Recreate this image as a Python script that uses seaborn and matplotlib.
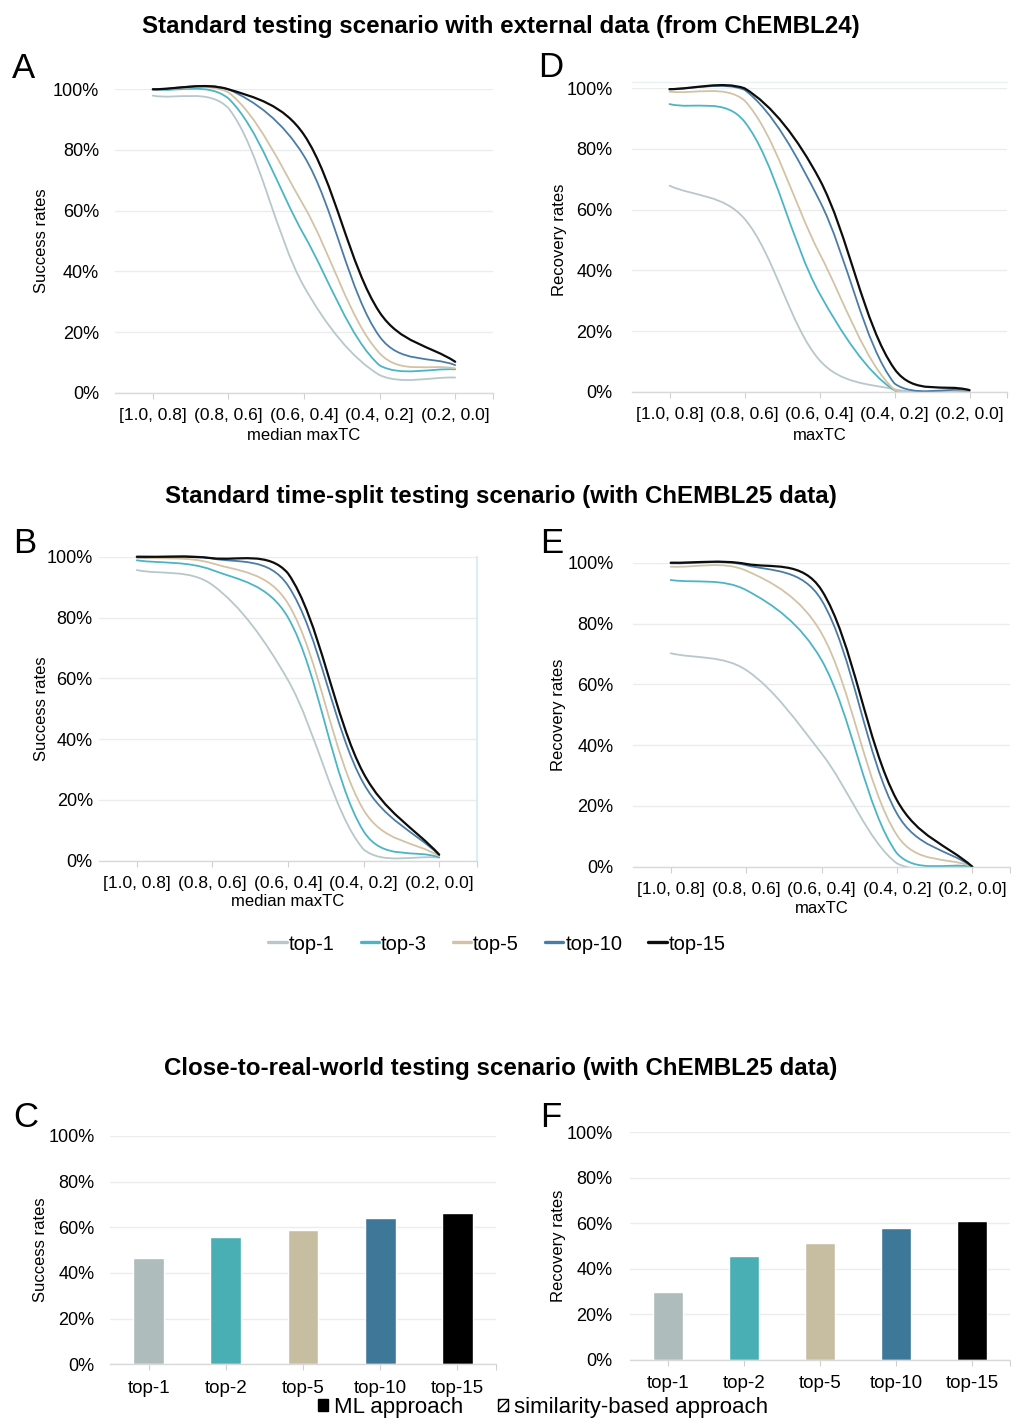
import matplotlib
matplotlib.use("Agg")
import matplotlib.pyplot as plt
import seaborn as sns
import numpy as np
from matplotlib.path import Path
from matplotlib.patches import PathPatch, Patch, Rectangle
from matplotlib.lines import Line2D

# categories
bins = ['[1.0, 0.8]', '(0.8, 0.6]', '(0.6, 0.4]', '(0.4, 0.2]', '(0.2, 0.0]']
line_names = ['top-1', 'top-3', 'top-5', 'top-10', 'top-15']
bar_names = ['top-1', 'top-2', 'top-5', 'top-10', 'top-15']

# A - success rates, external data
a_top1 = [0.979, 0.938, 0.35, 0.058, 0.05]
a_top3 = [1.0, 0.97, 0.52, 0.09, 0.077]
a_top5 = [1.0, 0.99, 0.615, 0.13, 0.08]
a_top10 = [1.0, 1.0, 0.78, 0.185, 0.091]
a_top15 = [1.0, 1.0, 0.85, 0.265, 0.102]

# D - recovery rates, external data
d_top1 = [0.679, 0.57, 0.104, 0.008, 0.0]
d_top3 = [0.948, 0.89, 0.324, 0.004, 0.0]
d_top5 = [0.989, 0.96, 0.456, 0.006, 0.004]
d_top10 = [0.998, 0.995, 0.63, 0.027, 0.006]
d_top15 = [0.997, 1.0, 0.70, 0.075, 0.005]

# B - success rates, time split
b_top1 = [0.956, 0.907, 0.594, 0.037, 0.01]
b_top3 = [0.988, 0.956, 0.80, 0.097, 0.011]
b_top5 = [0.997, 0.978, 0.846, 0.167, 0.015]
b_top10 = [0.998, 0.994, 0.905, 0.254, 0.019]
b_top15 = [1.0, 0.995, 0.945, 0.287, 0.02]

# E - recovery rates, time split
e_top1 = [0.702, 0.647, 0.373, 0.011, 0.0]
e_top3 = [0.943, 0.91, 0.68, 0.044, 0.0]
e_top5 = [0.987, 0.974, 0.768, 0.104, 0.0]
e_top10 = [0.998, 0.992, 0.877, 0.175, 0.0]
e_top15 = [1.0, 0.996, 0.91, 0.219, 0.0]

# C / F - close-to-real-world bars
c_vals = [0.464, 0.556, 0.59, 0.639, 0.663]
f_vals = [0.297, 0.458, 0.514, 0.578, 0.609]

line_colors = ['#b8c8ca', '#4bb5c6', '#d3c3a6', '#4a7ca8', '#0d0d0d']
bar_colors = ['#aebdbb', '#4aafb5', '#c7bea2', '#3e7898', '#000000']

sns.set_theme(style="white")
plt.rcParams['font.family'] = ['Liberation Sans', 'DejaVu Sans']
plt.rcParams['text.color'] = 'black'
plt.rcParams['axes.labelcolor'] = 'black'
plt.rcParams['xtick.color'] = 'black'
plt.rcParams['ytick.color'] = 'black'

W, H = 1011, 1424
fig = plt.figure(figsize=(W / 100, H / 100), dpi=100)


def box(l, r, t, b):
    return [l / W, 1 - b / H, (r - l) / W, (b - t) / H]


def smooth_path(ys, sx=75.5, sy=303.5, lim=0.025):
    # excel-like smoothed line; tangents partly weighted by screen chord length,
    # control points kept close to the segment's value range
    pts = np.array(list(zip(range(len(ys)), ys)), dtype=float)
    scr = pts * [sx, sy]
    n = len(pts)
    dist = np.hypot(*np.diff(scr, axis=0).T)
    verts = [tuple(pts[0])]
    codes = [Path.MOVETO]
    for i in range(n - 1):
        p1, p2 = pts[i], pts[i + 1]
        if i == 0:
            c1 = p1 + (p2 - p1) / 3
        else:
            w = (0.5 + dist[i] / (dist[i - 1] + dist[i])) / 2
            c1 = p1 + (pts[i + 1] - pts[i - 1]) * w / 3
        if i + 2 >= n:
            c2 = p2 - (p2 - p1) / 3
        else:
            w = (0.5 + dist[i] / (dist[i] + dist[i + 1])) / 2
            c2 = p2 - (pts[i + 2] - pts[i]) * w / 3
        lo, hi = min(p1[1], p2[1]) - lim, max(p1[1], p2[1]) + lim
        c1[1] = np.clip(c1[1], lo, hi)
        c2[1] = np.clip(c2[1], lo, hi)
        verts += [tuple(c1), tuple(c2), tuple(p2)]
        codes += [Path.CURVE4] * 3
    return Path(verts, codes)


def style_axes(ax, ticklabels, fs_x, ypad):
    ax.set_xlim(-0.5, 4.5)
    ax.set_ylim(0, 1.0)
    ax.set_yticks([0, 0.2, 0.4, 0.6, 0.8, 1.0])
    ax.set_yticklabels(['0%', '20%', '40%', '60%', '80%', '100%'], fontsize=13)
    ax.set_xticks(range(5))
    ax.set_xticklabels(ticklabels, fontsize=fs_x)
    ax.set_xticks([4.5], minor=True)
    ax.grid(axis='y', color='#ececec', linewidth=1.0)
    ax.set_axisbelow(True)
    for s in ['left', 'right', 'top']:
        ax.spines[s].set_visible(False)
    ax.spines['bottom'].set_color('#d9d9d9')
    ax.spines['bottom'].set_linewidth(1.0)
    ax.tick_params(axis='y', length=0, pad=ypad)
    ax.tick_params(axis='x', which='both', length=4, width=0.8, color='#d0d0d0',
                   pad=7, bottom=True, labelcolor='black')
    ax.set_xlabel('')
    ax.set_ylabel('')


def line_panel(rect, series, ylab, ylab_x, xlab, xlab_y, ypad):
    ax = fig.add_axes(box(*rect))
    style_axes(ax, bins, 12.5, ypad)
    clip = Rectangle((0, 0), 1, 1.1, transform=ax.transAxes)
    for ys, col in zip(series, line_colors):
        lw = 1.6 if col == '#0d0d0d' else 1.3
        p = PathPatch(smooth_path(ys), facecolor='none', edgecolor=col, lw=lw,
                      capstyle='round')
        ax.add_patch(p)
        p.set_clip_path(clip)
    ax.set_ylabel(ylab, fontsize=12)
    ax.yaxis.set_label_coords((ylab_x + 9) / W, 1 - (rect[2] + rect[3]) / 2 / H,
                              transform=fig.transFigure)
    ax.set_xlabel(xlab, fontsize=12)
    ax.xaxis.set_label_coords(((rect[0] + rect[1]) / 2) / W, 1 - (xlab_y - 9) / H,
                              transform=fig.transFigure)
    return ax


def bar_panel(rect, vals, ylab, ylab_x, ypad):
    ax = fig.add_axes(box(*rect))
    sns.barplot(x=bar_names, y=vals, hue=bar_names, palette=bar_colors,
                width=0.4, legend=False, saturation=1, ax=ax)
    style_axes(ax, bar_names, 13.5, ypad)
    ax.set_ylabel(ylab, fontsize=12)
    ax.yaxis.set_label_coords((ylab_x + 9) / W, 1 - (rect[2] + rect[3]) / 2 / H,
                              transform=fig.transFigure)
    return ax


axA = line_panel((115, 493, 89.3, 392.7), [a_top1, a_top3, a_top5, a_top10, a_top15],
                 'Success rates', 40, 'median maxTC', 437, 11.5)
axD = line_panel((632, 1007, 88.3, 391.7), [d_top1, d_top3, d_top5, d_top10, d_top15],
                 'Recovery rates', 558, 'maxTC', 437, 14)
axD.axhline(1.02, color='#eaf1f4', lw=1.0, clip_on=False)
axB = line_panel((99, 477, 556.7, 860.7), [b_top1, b_top3, b_top5, b_top10, b_top15],
                 'Success rates', 40, 'median maxTC', 903, 4.5)
axB.spines['right'].set_visible(True)
axB.spines['right'].set_color('#d4ecf2')
axE = line_panel((633, 1010, 562.7, 866.7), [e_top1, e_top3, e_top5, e_top10, e_top15],
                 'Recovery rates', 557, 'maxTC', 910, 14)
axC = bar_panel((110, 496, 1136, 1364.3), c_vals, 'Success rates', 39, 11)
axF = bar_panel((630, 1010, 1132.3, 1360), f_vals, 'Recovery rates', 557, 12.5)

# titles
titles = [("Standard testing scenario with external data (from ChEMBL24)", 26),
          ("Standard time-split testing scenario (with ChEMBL25 data)", 496),
          ("Close-to-real-world testing scenario (with ChEMBL25 data)", 1069)]
for txt, y in titles:
    fig.text(501 / W, 1 - y / H, txt, ha='center', va='center', fontsize=17.4,
             fontweight='bold')

# panel letters
letters = [('A', 12, 78), ('D', 538, 77), ('B', 13, 553), ('E', 540, 553),
           ('C', 13, 1127), ('F', 540, 1127)]
for lt, x, y in letters:
    fig.text(x / W, 1 - y / H, lt, ha='left', va='baseline', fontsize=25)

# legend for line panels
handles = [Line2D([], [], color=c, lw=2.4) for c in line_colors]
fig.legend(handles, line_names, loc='center', bbox_to_anchor=(497 / W, 1 - 944 / H),
           ncol=5, frameon=False, fontsize=14.5, handlelength=0.9,
           handletextpad=0.1, columnspacing=1.3)

# legend for bar panels
bh = [Patch(facecolor='black', edgecolor='black'),
      Patch(facecolor='white', edgecolor='black', hatch='////')]
fig.legend(bh, ['ML approach', 'similarity-based approach'], loc='center',
           bbox_to_anchor=(543 / W, 1 - 1407 / H), ncol=2, frameon=False,
           fontsize=16, handlelength=0.45, handleheight=0.45,
           handletextpad=0.25, columnspacing=1.6)

fig.savefig('out.png', dpi=100)
